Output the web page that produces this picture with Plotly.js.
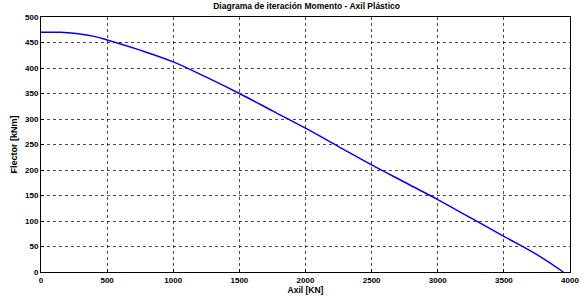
<!DOCTYPE html>
<html>
<head>
<meta charset="utf-8">
<script src="https://cdn.plot.ly/plotly-3.0.1.min.js"></script>
<style>html,body{margin:0;padding:0;background:#fff;}#chart{width:584px;height:296px;}</style>
</head>
<body>
<div id="chart"></div>
<script>
const axil = [0, 150, 250, 400, 500, 750, 1000, 1250, 1500, 1750, 2000, 2250, 2500, 2750, 3000, 3250, 3500, 3750, 3949];
const flector = [470, 470, 468, 462, 455, 435, 412, 382, 350, 316, 282, 246, 210, 176, 142, 106, 70, 34, 0];
const xTicks = [0, 500, 1000, 1500, 2000, 2500, 3000, 3500, 4000];
const yTicks = [0, 50, 100, 150, 200, 250, 300, 350, 400, 450, 500];

const tickFont = {family: 'Liberation Sans, Arial, sans-serif', size: 8, color: '#000', weight: 'bold'};
const data = [{
  x: axil, y: flector, type: 'scatter', mode: 'lines',
  line: {color: '#0000ff', width: 1.5, shape: 'spline', smoothing: 1}
}];
const axisCommon = {
  showline: true, mirror: true, linecolor: '#000', linewidth: 1,
  showgrid: true, gridcolor: '#000', gridwidth: 0.7, griddash: 'dot',
  zeroline: false, ticks: 'inside', ticklen: 3, tickcolor: '#000',
  tickfont: tickFont
};
const layout = {
  width: 584, height: 296,
  margin: {l: 41, r: 14, t: 17, b: 24},
  paper_bgcolor: '#fff', plot_bgcolor: '#fff',
  showlegend: false,
  title: {text: '<b>Diagrama de iteración Momento - Axil Plástico</b>', x: 0.525, xanchor: 'center', y: 0.99, yanchor: 'top',
          font: {family: 'Liberation Sans, Arial, sans-serif', size: 8.5, color: '#000'}},
  xaxis: Object.assign({}, axisCommon, {
    range: [0, 4000], tickvals: xTicks, ticktext: xTicks.map(String),
    title: {text: '<b>Axil [KN]</b>', standoff: 1, font: {family: 'Liberation Sans, Arial, sans-serif', size: 8.5, color: '#000'}}
  }),
  yaxis: Object.assign({}, axisCommon, {
    range: [0, 500], tickvals: yTicks, ticktext: yTicks.map(String),
    title: {text: '<b>Flector [kNm]</b>', standoff: 5, font: {family: 'Liberation Sans, Arial, sans-serif', size: 9, color: '#000'}}
  })
};
Plotly.newPlot('chart', data, layout, {displayModeBar: false, staticPlot: true});
</script>
</body>
</html>
